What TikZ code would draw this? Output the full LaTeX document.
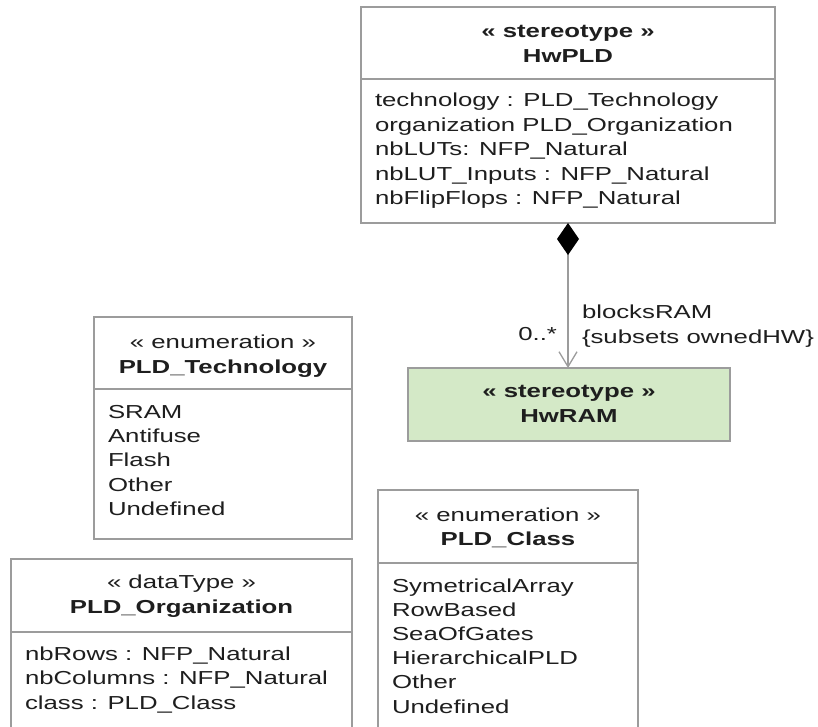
\documentclass[tikz,border=0pt]{standalone}
\usepackage{fontspec}
\setmainfont{Liberation Sans}[FakeStretch=1.37]
\usetikzlibrary{arrows.meta}
\definecolor{linegray}{HTML}{9C9C9C}
\definecolor{txt}{HTML}{1E1E1E}
\definecolor{ramgreen}{RGB}{212,233,199}
\newcommand\umlsize{\fontsize{18.8}{24.4}\selectfont}
\begin{document}
\begin{tikzpicture}[x=1pt,y=-1pt,
  font=\umlsize,
  umlbox/.style={draw=linegray, line width=1.3pt, fill=white, anchor=north west, inner sep=0pt, outer sep=0pt},
  ln/.style={text=txt, inner sep=0pt, outer sep=0pt, font=\umlsize},
  hd/.style={ln, anchor=base},
  hdb/.style={ln, anchor=base, font=\umlsize\bfseries},
  it/.style={ln, anchor=base west},
  divider/.style={draw=linegray, line width=1.3pt},
  conn/.style={draw=linegray, line width=1.3pt}
]
\useasboundingbox (0,0) rectangle (818,727);
\clip (0,0) rectangle (818,727);

% HwPLD
\node[umlbox, minimum width=414pt, minimum height=216pt] (hwpld) at (361,7) {};
\node[hdb] (hwpldst) at (568,38) {« stereotype »};
\node[hdb] (hwpldname) at (568,62.5) {HwPLD};
\draw[divider] (hwpld.west |- 0,79) -- (hwpld.east |- 0,79);
\foreach \t [count=\i from 0] in {technology : PLD\_Technology, organization PLD\_Organization, nbLUTs: NFP\_Natural, nbLUT\_Inputs : NFP\_Natural, nbFlipFlops : NFP\_Natural}
  \node[it] (hwpldattr\i) at (375,107+24.5*\i) {\t};

% HwRAM
\node[umlbox, fill=ramgreen, minimum width=322pt, minimum height=73pt] (hwram) at (408,368) {};
\node[hdb] (hwramst) at (569,397.5) {« stereotype »};
\node[hdb] (hwramname) at (569,422) {HwRAM};

% composition
\draw[conn, {Diamond[length=32pt,width=22pt,fill=black,color=black]}-{Straight Barb[length=15pt,width=18pt]}] (hwpld.south) -- (hwpld.south |- hwram.north);
\node[it] (lblrole) at (582,318) {blocksRAM};
\node[it] (lblsub) at (582,343) {\{subsets ownedHW\}};
\node[ln, anchor=base east] (lblmult) at (557,340) {0..*};

% PLD_Technology
\node[umlbox, minimum width=258pt, minimum height=222pt] (tech) at (94,317) {};
\node[hd] (techst) at (223,348.5) {« enumeration »};
\node[hdb] (techname) at (223,373) {PLD\_Technology};
\draw[divider] (tech.west |- 0,389) -- (tech.east |- 0,389);
\foreach \t [count=\i from 0] in {SRAM, Antifuse, Flash, Other, Undefined}
  \node[it] (techlit\i) at (108,418+24.4*\i) {\t};

% PLD_Organization
\node[umlbox, minimum width=341pt, minimum height=200pt] (org) at (11,559) {};
\node[hd] (orgst) at (181.5,588.5) {« dataType »};
\node[hdb] (orgname) at (181.5,613) {PLD\_Organization};
\draw[divider] (org.west |- 0,632) -- (org.east |- 0,632);
\foreach \t [count=\i from 0] in {nbRows : NFP\_Natural, nbColumns : NFP\_Natural, class : PLD\_Class}
  \node[it] (orgattr\i) at (25,660+24.5*\i) {\t};

% PLD_Class
\node[umlbox, minimum width=260pt, minimum height=260pt] (cls) at (378,490) {};
\node[hd] (clsst) at (508,521) {« enumeration »};
\node[hdb] (clsname) at (508,545) {PLD\_Class};
\draw[divider] (cls.west |- 0,563) -- (cls.east |- 0,563);
\foreach \t [count=\i from 0] in {SymetricalArray, RowBased, SeaOfGates, HierarchicalPLD, Other, Undefined}
  \node[it] (clslit\i) at (392,592+24.2*\i) {\t};
\end{tikzpicture}
\end{document}
